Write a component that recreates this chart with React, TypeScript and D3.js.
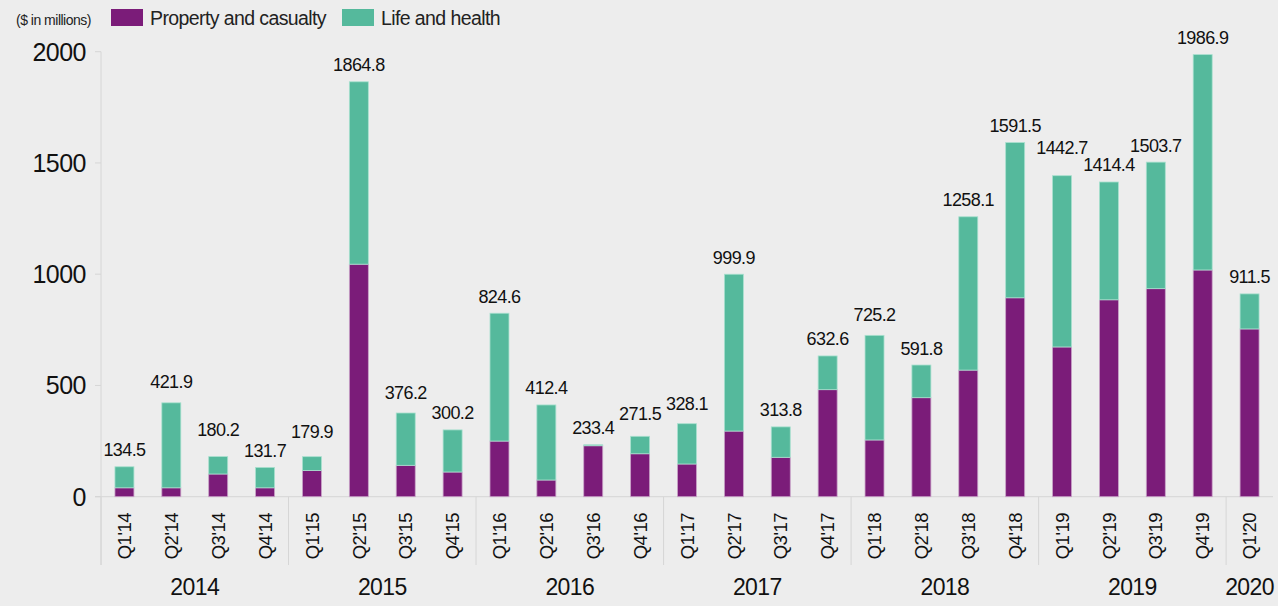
import React, { useEffect, useRef } from 'react';
import * as d3 from 'd3';

const quarters = [
  "Q1'14", "Q2'14", "Q3'14", "Q4'14",
  "Q1'15", "Q2'15", "Q3'15", "Q4'15",
  "Q1'16", "Q2'16", "Q3'16", "Q4'16",
  "Q1'17", "Q2'17", "Q3'17", "Q4'17",
  "Q1'18", "Q2'18", "Q3'18", "Q4'18",
  "Q1'19", "Q2'19", "Q3'19", "Q4'19",
  "Q1'20",
];

const propertyCasualty = [
  40, 40, 102, 40, 118, 1045, 141, 111, 250, 75, 229, 193, 147, 295, 177, 481,
  255, 445, 569, 894, 673, 885, 935, 1019, 754,
];

const lifeHealth = [
  94.5, 381.9, 78.2, 91.7, 61.9, 819.8, 235.2, 189.2, 574.6, 337.4, 4.4, 78.5,
  181.1, 704.9, 136.8, 151.6, 470.2, 146.8, 689.1, 697.5, 769.7, 529.4, 568.7,
  967.9, 157.5,
];

const totals = [
  134.5, 421.9, 180.2, 131.7, 179.9, 1864.8, 376.2, 300.2, 824.6, 412.4, 233.4,
  271.5, 328.1, 999.9, 313.8, 632.6, 725.2, 591.8, 1258.1, 1591.5, 1442.7,
  1414.4, 1503.7, 1986.9, 911.5,
];

const yTicks = [0, 500, 1000, 1500, 2000];

const seriesNames = ['Property and casualty', 'Life and health'];

// extra lift for a few hand-placed labels in the original
const labelLift: Record<number, number> = { 1: 4, 2: 10, 4: 8, 6: 3, 11: 6, 12: 3, 16: 4, 20: 11 };

const FONT = '"Liberation Sans", Arial, Helvetica, sans-serif';
const PURPLE = '#7b1c79';
const TEAL = '#55b99c';

const App = () => {
  const ref = useRef<SVGSVGElement>(null);

  useEffect(() => {
    const W = 1278;
    const H = 606;
    const svg = d3.select(ref.current);
    svg.selectAll('*').remove();

    svg.append('rect').attr('width', W).attr('height', H).attr('fill', '#ededed');

    const x = d3.scaleBand<string>()
      .domain(quarters)
      .range([101, 1273])
      .paddingInner(0.595)
      .paddingOuter(0.2975);

    const y = d3.scaleLinear().domain([0, 2000]).range([496.7, 51.7]);

    const rows = quarters.map((q, i) => ({
      q,
      pc: propertyCasualty[i],
      lh: lifeHealth[i],
    }));
    const stacked = d3.stack<any>().keys(['pc', 'lh'])(rows);
    const fills = [PURPLE, TEAL];
    const strokes = ['#c9a3c8', '#a9e0cf'];

    // y axis line + ticks
    svg.append('line')
      .attr('x1', 101).attr('x2', 101)
      .attr('y1', y(2000)).attr('y2', 565)
      .attr('stroke', '#d6d6d6').attr('stroke-width', 1);

    yTicks.forEach((t) => {
      svg.append('line')
        .attr('x1', 95).attr('x2', 101)
        .attr('y1', y(t)).attr('y2', y(t))
        .attr('stroke', '#d6d6d6');
      svg.append('text')
        .attr('x', 86).attr('y', y(t))
        .attr('dy', '0.36em')
        .attr('text-anchor', 'end')
        .attr('font-family', FONT)
        .attr('font-size', 25)
        .attr('letter-spacing', -0.5)
        .attr('fill', '#111')
        .text(t);
    });

    // baseline
    svg.append('line')
      .attr('x1', 95).attr('x2', 1273)
      .attr('y1', y(0)).attr('y2', y(0))
      .attr('stroke', '#d6d6d6');

    // bars
    stacked.forEach((s, si) => {
      svg.append('g')
        .selectAll('rect')
        .data(s)
        .enter()
        .append('rect')
        .attr('x', (d: any) => x(d.data.q)!)
        .attr('width', x.bandwidth())
        .attr('y', (d) => y(d[1]))
        .attr('height', (d) => y(d[0]) - y(d[1]))
        .attr('fill', fills[si])
        .attr('stroke', strokes[si])
        .attr('stroke-width', 0.8);
    });

    // total labels
    svg.append('g')
      .selectAll('text')
      .data(totals)
      .enter()
      .append('text')
      .attr('x', (_d, i) => x(quarters[i])! + x.bandwidth() / 2)
      .attr('y', (d, i) => y(d) - 10.5 - (labelLift[i] || 0))
      .attr('text-anchor', 'middle')
      .attr('font-family', FONT)
      .attr('font-size', 18)
      .attr('letter-spacing', -0.6)
      .attr('fill', '#111')
      .text((d) => d.toFixed(1));

    // quarter labels
    quarters.forEach((q) => {
      const cx = x(q)! + x.bandwidth() / 2;
      svg.append('text')
        .attr('transform', `translate(${cx},513) rotate(-90)`)
        .attr('text-anchor', 'end')
        .attr('dy', '0.36em')
        .attr('font-family', FONT)
        .attr('font-size', 18.5)
        .attr('letter-spacing', -0.5)
        .attr('fill', '#111')
        .text(q);
    });

    // year groups
    const years = Array.from(new Set(quarters.map((q) => '20' + q.slice(-2))));
    years.forEach((yr) => {
      const qs = quarters.filter((q) => '20' + q.slice(-2) === yr);
      const start = x(qs[0])! - (x.step() - x.bandwidth()) / 2;
      const end = x(qs[qs.length - 1])! + x.bandwidth() + (x.step() - x.bandwidth()) / 2;
      svg.append('line')
        .attr('x1', start).attr('x2', start)
        .attr('y1', y(0)).attr('y2', 565)
        .attr('stroke', '#d6d6d6');
      svg.append('text')
        .attr('x', (start + end) / 2)
        .attr('y', 595)
        .attr('text-anchor', 'middle')
        .attr('font-family', FONT)
        .attr('font-size', 23)
        .attr('letter-spacing', -0.6)
        .attr('fill', '#111')
        .text(yr);
    });

    // legend
    svg.append('text')
      .attr('x', 16).attr('y', 25)
      .attr('font-family', FONT)
      .attr('font-size', 14)
      .attr('letter-spacing', -0.5)
      .attr('fill', '#222')
      .text('($ in millions)');

    const legendX = [111, 342];
    seriesNames.forEach((name, i) => {
      svg.append('rect')
        .attr('x', legendX[i]).attr('y', 9)
        .attr('width', 32).attr('height', 17)
        .attr('fill', fills[i]);
      svg.append('text')
        .attr('x', legendX[i] + 39).attr('y', 25)
        .attr('font-family', FONT)
        .attr('font-size', 19.5)
        .attr('letter-spacing', -0.6)
        .attr('fill', '#222')
        .text(name);
    });
  }, []);

  return (
    <div style={{ position: 'fixed', left: 0, top: 0 }}>
      <svg ref={ref} width={1278} height={606} style={{ display: 'block' }} />
    </div>
  );
};

export default App;
